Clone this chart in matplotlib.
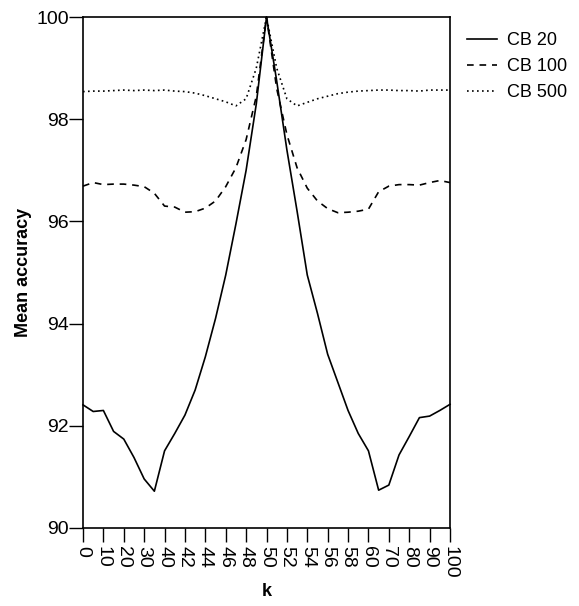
import numpy as np
import matplotlib.pyplot as plt

plt.rcParams["font.family"] = ["Liberation Sans", "DejaVu Sans"]

# k values: step 5 outside 40..60, step 1 inside
k = [0, 5, 10, 15, 20, 25, 30, 35, 40, 41, 42, 43, 44, 45, 46, 47, 48, 49, 50,
     51, 52, 53, 54, 55, 56, 57, 58, 59, 60, 65, 70, 75, 80, 85, 90, 95, 100]

cb20 = [92.41, 92.28, 92.30, 91.89, 91.74, 91.38, 90.96, 90.72, 91.51, 91.85,
        92.21, 92.70, 93.35, 94.10, 94.95, 95.95, 97.00, 98.30, 100.0,
        98.75, 97.40, 96.20, 94.95, 94.20, 93.40, 92.85, 92.30, 91.85, 91.51,
        90.74, 90.84, 91.43, 91.79, 92.16, 92.19, 92.30, 92.42]

cb100 = [96.69, 96.76, 96.72, 96.73, 96.73, 96.71, 96.68, 96.55, 96.30, 96.28,
         96.18, 96.19, 96.26, 96.40, 96.68, 97.05, 97.60, 98.45, 100.0,
         98.60, 97.70, 97.05, 96.65, 96.40, 96.25, 96.17, 96.18, 96.20, 96.24,
         96.58, 96.69, 96.72, 96.72, 96.71, 96.76, 96.80, 96.76]

cb500 = [98.54, 98.55, 98.55, 98.56, 98.57, 98.56, 98.57, 98.56, 98.57, 98.55,
         98.54, 98.51, 98.46, 98.40, 98.34, 98.26, 98.40, 99.00, 100.0,
         99.00, 98.40, 98.26, 98.33, 98.40, 98.45, 98.50, 98.53, 98.55, 98.56,
         98.57, 98.57, 98.56, 98.56, 98.55, 98.57, 98.57, 98.57]

tick_labels = ["0", "10", "20", "30", "40", "42", "44", "46", "48", "50",
               "52", "54", "56", "58", "60", "70", "80", "90", "100"]


def k_to_pos(v):
    # categorical axis: coarse steps outside 40..60, fine steps inside
    if v <= 40:
        return v / 10
    if v <= 60:
        return 4 + (v - 40) / 2
    return 14 + (v - 60) / 10


def main() -> None:
    x = np.array([k_to_pos(v) for v in k])

    fig = plt.figure(figsize=(5.79, 6.06), dpi=100)
    ax = fig.add_axes([83 / 579, 1 - 528 / 606, 367 / 579, 511 / 606])

    ax.plot(x, cb20, color="black", lw=1.2, label="CB 20", clip_on=False)
    ax.plot(x, cb100, color="black", lw=1.2, dashes=(4, 3.5), label="CB 100", clip_on=False)
    ax.plot(x, cb500, color="black", lw=1.2, dashes=(1, 2), label="CB 500", clip_on=False)

    ax.set_xlim(0, 18)
    ax.set_ylim(90, 100)
    ax.set_xticks(range(len(tick_labels)))
    ax.set_xticklabels(tick_labels, rotation=-90, fontsize=14)
    ax.set_yticks(range(90, 101, 2))
    ax.tick_params(axis="y", labelsize=14, length=10, width=1, pad=0)
    ax.tick_params(axis="x", length=10, width=1, pad=3)
    for s in ax.spines.values():
        s.set_linewidth(1.2)

    ax.set_xlabel("k", fontsize=13, fontweight="bold", labelpad=3)
    ax.set_ylabel("Mean accuracy", fontsize=13, fontweight="bold", labelpad=3)

    fig.legend(loc="upper left", bbox_to_anchor=(451 / 579, 1 - 16 / 606),
               frameon=False, fontsize=13, handlelength=1.65,
               handletextpad=0.55, labelspacing=0.5)

    fig.savefig("out.png", dpi=100)


if __name__ == "__main__":
    main()
